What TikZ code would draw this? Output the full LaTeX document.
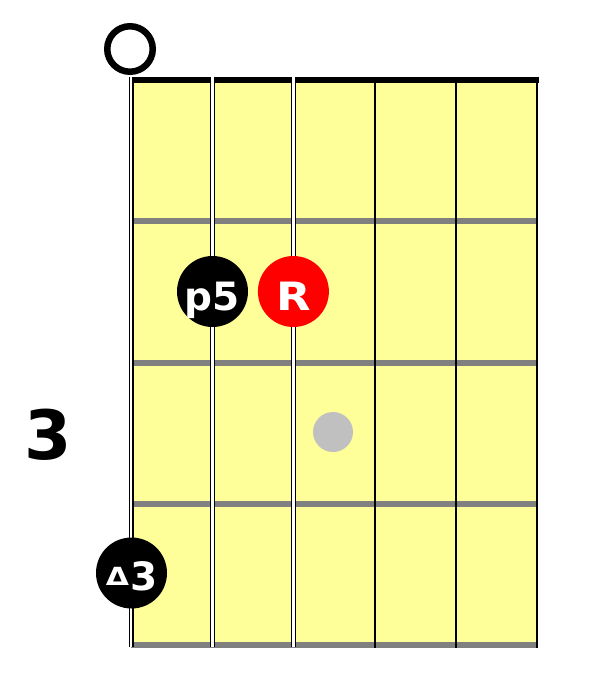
\documentclass[tikz,border=0pt]{standalone}
\usepackage{fontspec}
\setmainfont{DejaVu Sans}
\definecolor{boardyellow}{HTML}{FFFF99}
\definecolor{fretgray}{HTML}{808080}
\definecolor{ghostgray}{HTML}{C0C0C0}
\begin{document}
\begin{tikzpicture}[x=1pt,y=-1pt,
  fret/.style={color=fretgray, line width=6pt},
  openstring/.style={draw=black, double=white, line width=1.2pt, double distance=2.6pt},
  fretstring/.style={color=black, line width=2pt},
  finger/.style={circle, fill=black, minimum size=71pt, inner sep=0pt, text=white,
    text height=37pt, text depth=0pt, font=\bfseries\fontsize{39}{39}\selectfont}]
\useasboundingbox (0,0) rectangle (607,700);
\fill[color=boardyellow] (131,80) rectangle (537,645);
\draw[fret] (131,221.3)-- (537,221.3);
\draw[fret] (131,362.6)-- (537,362.6);
\draw[fret] (131,503.9)-- (537,503.9);
\draw[fret] (131,645)-- (537,645);
\draw[color=black, line width=6pt] (131,80)-- (539,80);
\draw[openstring] (131,77)-- (131,647);
\draw[openstring] (212.2,77)-- (212.2,647);
\draw[openstring] (293.4,77)-- (293.4,647);
\draw[fretstring] (374.6,80)-- (374.6,648);
\draw[fretstring] (455.8,80)-- (455.8,648);
\draw[fretstring] (537,80)-- (537,648);
\node[circle, draw=black, line width=6.5pt, minimum size=45.5pt, inner sep=0pt] (open) at (130,49) {};
\node[font=\bfseries\fontsize{68}{68}\selectfont] (fretnum) at (48,435) {3};
\node[finger] (fifth) at (212.5,291.5) {p5};
\node[finger, fill=red] (root) at (293.4,291.5) {\scalebox{1.15}[1]{R}};
\node[circle, fill=ghostgray, minimum size=40pt, inner sep=0pt] (ghost) at (333,432) {};
\node[finger, text height=35pt] (third) at (131.5,573) {\raisebox{5pt}{\fontsize{25}{25}\selectfont\scalebox{1.2}[1]{Δ}}\kern1pt 3};
\end{tikzpicture}
\end{document}
